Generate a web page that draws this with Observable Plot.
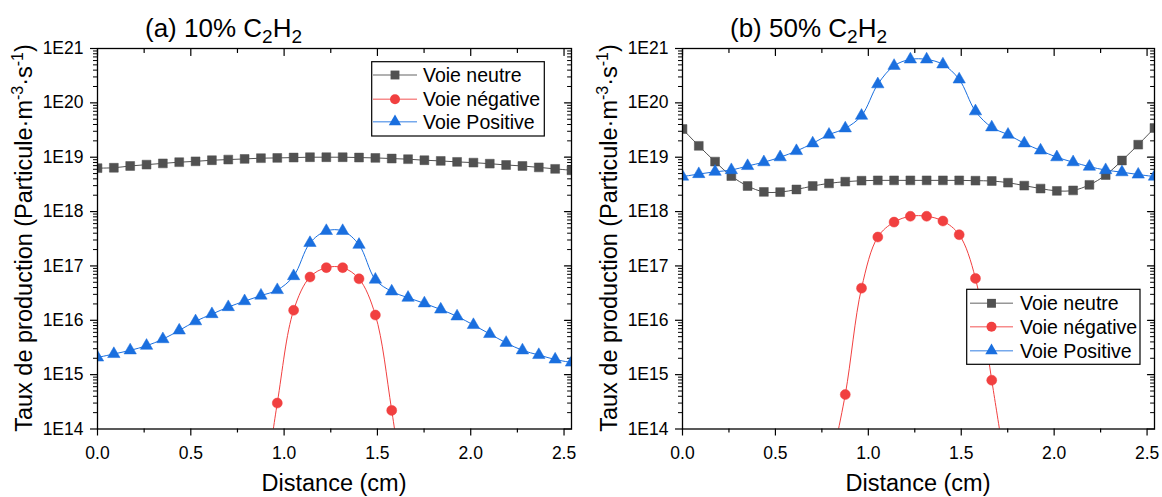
<!DOCTYPE html>
<html><head><meta charset="utf-8">
<script src="https://cdn.jsdelivr.net/npm/d3@7"></script>
<script src="https://cdn.jsdelivr.net/npm/@observablehq/plot@0.6"></script>
<style>
body{margin:0;background:#fff;}
#wrap{position:relative;width:1162px;height:497px;overflow:hidden;}
#wrap > div{position:absolute;top:0;}
svg{font-family:"Liberation Sans",Arial,sans-serif;}
</style></head><body>
<div id="wrap"><div id="pa" style="left:0"></div><div id="pb" style="left:581px"></div></div>
<script>
// ---- data ----
const distance = [0, 0.0876, 0.1752, 0.2628, 0.3503, 0.4379, 0.5255, 0.6131, 0.7007, 0.7883,
  0.8759, 0.9634, 1.0510, 1.1386, 1.2262, 1.3138, 1.4014, 1.4890, 1.5766, 1.6641,
  1.7517, 1.8393, 1.9269, 2.0145, 2.1021, 2.1897, 2.2772, 2.3648, 2.4524, 2.54];

const seriesNames = ["Voie neutre", "Voie négative", "Voie Positive"];
const seriesColors = ["#515151", "#F14040", "#1A6FDF"];

// (a) 10% C2H2
const neutreA = [6.3e18, 6.4e18, 6.9e18, 7.3e18, 7.7e18, 8.1e18, 8.4e18, 8.8e18, 9.05e18, 9.3e18,
  9.6e18, 9.7e18, 9.86e18, 1.0e19, 1.0e19, 1.0e19, 9.86e18, 9.7e18, 9.45e18, 9.2e18,
  8.8e18, 8.55e18, 8.2e18, 7.95e18, 7.6e18, 7.2e18, 6.9e18, 6.5e18, 6.1e18, 5.75e18];
const negativeA = [null, null, null, null, null, null, null, null, null, null,
  2.5e12, 3.0e14, 1.53e16, 6.25e16, 9.3e16, 9.3e16, 5.8e16, 1.25e16, 2.2e14, 1.6e12,
  null, null, null, null, null, null, null, null, null, null];
const positiveA = [2.07e15, 2.4e15, 2.8e15, 3.4e15, 4.5e15, 6.5e15, 9.6e15, 1.3e16, 1.75e16, 2.25e16,
  2.85e16, 3.6e16, 6.5e16, 2.65e17, 4.4e17, 4.4e17, 2.45e17, 5.6e16, 3.4e16, 2.6e16,
  2.05e16, 1.58e16, 1.18e16, 8.2e15, 5.6e15, 3.85e15, 2.8e15, 2.3e15, 1.9e15, 1.67e15];

// (b) 50% C2H2
const neutreB = [3.3e19, 1.62e19, 8.3e18, 4.5e18, 2.95e18, 2.3e18, 2.28e18, 2.55e18, 2.95e18, 3.3e18,
  3.55e18, 3.7e18, 3.75e18, 3.75e18, 3.75e18, 3.75e18, 3.75e18, 3.75e18, 3.7e18, 3.65e18,
  3.4e18, 3.0e18, 2.65e18, 2.4e18, 2.45e18, 3.1e18, 4.7e18, 8.7e18, 1.7e19, 3.45e19];
const negativeB = [null, null, null, null, null, null, null, null, null, 1.5e13,
  4.3e14, 3.9e16, 3.4e17, 6.4e17, 8.2e17, 8.2e17, 6.7e17, 3.75e17, 5.9e16, 7.9e14,
  1.0e13, null, null, null, null, null, null, null, null, null];
const positiveB = [4.4e18, 4.9e18, 5.4e18, 5.8e18, 6.9e18, 8.1e18, 1.0e19, 1.3e19, 1.8e19, 2.6e19,
  3.4e19, 5.8e19, 2.2e20, 4.8e20, 6.3e20, 6.3e20, 5.1e20, 2.7e20, 7.0e19, 3.55e19,
  2.6e19, 1.8e19, 1.33e19, 1.0e19, 8.1e18, 6.7e18, 5.8e18, 5.3e18, 4.8e18, 4.4e18];

// axis ticks
const xMajor = [0, 0.5, 1.0, 1.5, 2.0, 2.5];
const xMinor = [0.25, 0.75, 1.25, 1.75, 2.25];
const yMajor = [1e14, 1e15, 1e16, 1e17, 1e18, 1e19, 1e20, 1e21];
const yMinor = [];
for (let e = 14; e < 21; e++) for (let k = 2; k <= 9; k++) yMinor.push(k * Math.pow(10, e));

const symbols = ["square", "circle", "triangle"];
const symR = [5.0, 5.0, 4.6];

const tickShape = {draw(context, l) { context.moveTo(0, 0); context.lineTo(0, -l); }};

function panel(el, cfg) {
  const W = 581, H = 497;
  const values = [cfg.neutre, cfg.negative, cfg.positive];
  const rows = [];
  values.forEach((vals, s) => vals.forEach((v, i) => { if (v != null) rows.push({x: distance[i], y: v, s}); }));
  const marks = [
    Plot.axisX(xMajor, {anchor: "bottom", tickSize: 7, tickPadding: 11, tickFormat: d => d.toFixed(1), fontSize: 17.5, label: null, strokeWidth: 1.2}),
    Plot.axisX(xMinor, {anchor: "bottom", tickSize: 4, fill: "none", label: null, strokeWidth: 1.2}),
    Plot.axisY(yMajor, {anchor: "left", tickSize: 7, tickPadding: 7, tickFormat: d => "1E" + Math.round(Math.log10(d)), fontSize: 17.5, label: null, strokeWidth: 1.2}),
    Plot.axisY(yMinor, {anchor: "left", tickSize: 4, fill: "none", label: null, strokeWidth: 1}),
    Plot.vector(xMajor, {x: d => d, y: 1e21, length: 7, rotate: 180, anchor: "start", shape: tickShape, stroke: "black", strokeWidth: 1.2}),
    Plot.vector(xMinor, {x: d => d, y: 1e21, length: 4, rotate: 180, anchor: "start", shape: tickShape, stroke: "black", strokeWidth: 1.2}),
    Plot.vector(yMajor, {x: 2.54, y: d => d, length: 7, rotate: -90, anchor: "start", shape: tickShape, stroke: "black", strokeWidth: 1.2}),
    Plot.vector(yMinor, {x: 2.54, y: d => d, length: 4, rotate: -90, anchor: "start", shape: tickShape, stroke: "black", strokeWidth: 1}),
  ];
  [0, 2, 1].forEach(s => {
    const d = rows.filter(r => r.s === s);
    marks.push(Plot.line(d, {x: "x", y: "y", stroke: seriesColors[s], strokeWidth: 1, curve: "catmull-rom", clip: true}));
  });
  [0, 2, 1].forEach(s => {
    const d = rows.filter(r => r.s === s);
    marks.push(Plot.dot(d, {x: "x", y: "y", symbol: symbols[s], r: symR[s], fill: seriesColors[s], stroke: seriesColors[s], strokeWidth: 0.5, clip: true}));
  });
  marks.push(Plot.frame({stroke: "black", strokeWidth: 1.3}));

  const chart = Plot.plot({
    width: W, height: H,
    marginLeft: cfg.ml, marginRight: cfg.mr, marginTop: 48, marginBottom: 68.5,
    x: {domain: [0, 2.54]},
    y: {type: "log", domain: [1e14, 1e21]},
    style: {fontFamily: "Liberation Sans, Arial, sans-serif", fontSize: "17px", color: "black", background: "white", overflow: "visible"},
    marks
  });
  const svg = d3.select(chart);
  const px0 = cfg.ml, px1 = W - cfg.mr;

  // title with subscripts
  const t = svg.append("text").attr("x", cfg.titleX).attr("y", 36.7).attr("font-size", 26)
    .attr("text-anchor", "start").attr("fill", "black");
  t.append("tspan").text(cfg.title);
  t.append("tspan").attr("dy", 6).attr("font-size", 19).text("2");
  t.append("tspan").attr("dy", -6).text("H");
  t.append("tspan").attr("dy", 6).attr("font-size", 19).text("2");

  // x label
  svg.append("text").attr("x", (px0 + px1) / 2).attr("y", 491).attr("text-anchor", "middle")
    .attr("font-size", 23.5).attr("fill", "black").text("Distance (cm)");

  // y label
  const yl = svg.append("text").attr("transform", `translate(${cfg.ylX},238) rotate(-90)`)
    .attr("text-anchor", "middle").attr("font-size", 23.5).attr("fill", "black");
  yl.append("tspan").text("Taux de production (Particule·m");
  yl.append("tspan").attr("dy", -9).attr("font-size", 16).text("-3");
  yl.append("tspan").attr("dy", 9).text("·s");
  yl.append("tspan").attr("dy", -9).attr("font-size", 16).text("-1");
  yl.append("tspan").attr("dy", 9).text(")");

  // legend
  const L = cfg.legend;
  const g = svg.append("g").attr("text-anchor", "start");
  g.append("rect").attr("x", L.x0).attr("y", L.y0).attr("width", L.x1 - L.x0).attr("height", L.y1 - L.y0)
    .attr("fill", "white").attr("stroke", "black").attr("stroke-width", 1.2);
  const d3sym = [d3.symbolSquare, d3.symbolCircle, d3.symbolTriangle];
  seriesNames.forEach((name, s) => {
    const y = L.rows[s];
    g.append("line").attr("x1", L.lx0).attr("x2", L.lx1).attr("y1", y).attr("y2", y)
      .attr("stroke", seriesColors[s]).attr("stroke-opacity", 0.6).attr("stroke-width", 1.6);
    g.append("path").attr("d", d3.symbol(d3sym[s], Math.PI * symR[s] * symR[s])())
      .attr("transform", `translate(${(L.lx0 + L.lx1) / 2},${y})`).attr("fill", seriesColors[s]);
    g.append("text").attr("x", L.tx).attr("y", y).attr("dy", "0.36em").attr("font-size", 19.5)
      .attr("text-anchor", "start").attr("fill", "black").text(name);
  });
  document.getElementById(el).appendChild(chart);
}

panel("pa", {
  neutre: neutreA, negative: negativeA, positive: positiveA,
  ml: 97, mr: 10, title: "(a) 10% C", titleX: 145, ylX: 32,
  legend: {x0: 371.7, x1: 544.3, y0: 61.7, y1: 136, rows: [75, 99.3, 121.7], lx0: 373, lx1: 417, tx: 423}
});
panel("pb", {
  neutre: neutreB, negative: negativeB, positive: positiveB,
  ml: 101, mr: 8, title: "(b) 50% C", titleX: 149, ylX: 36,
  legend: {x0: 385.7, x1: 559, y0: 289.3, y1: 364.3, rows: [303.3, 326.7, 350.7], lx0: 389, lx1: 432, tx: 439}
});
</script>
</body></html>
